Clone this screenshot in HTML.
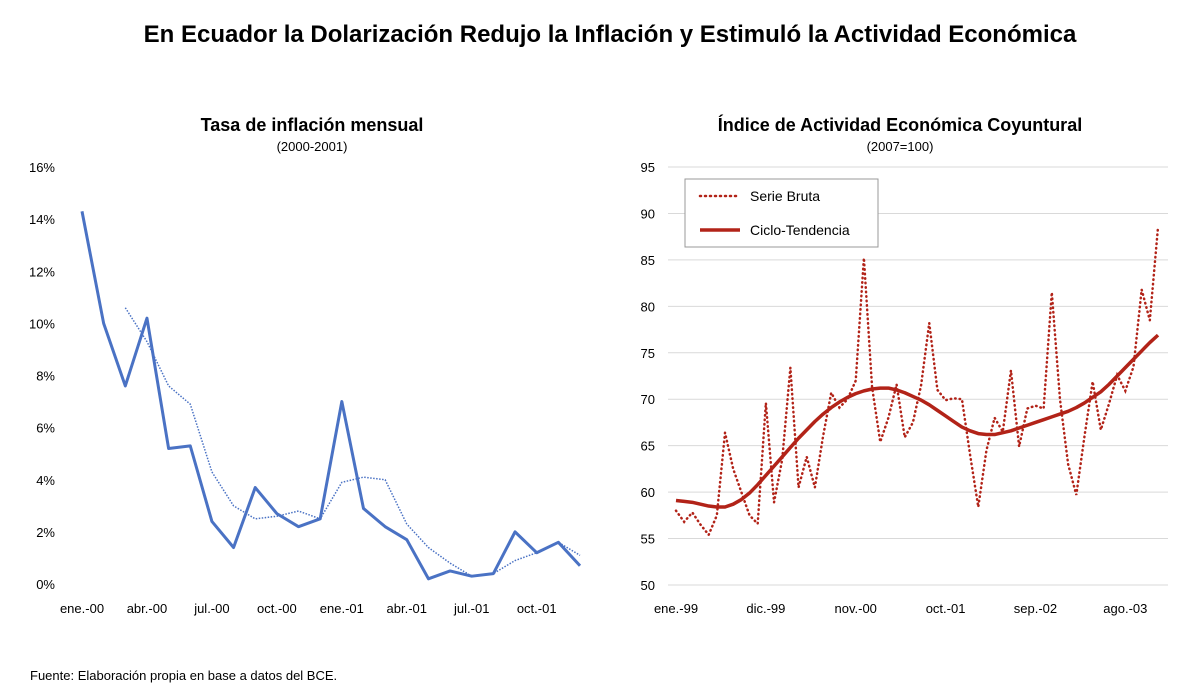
<!DOCTYPE html>
<html><head><meta charset="utf-8">
<style>
body{margin:0;background:#fff;font-family:"Liberation Sans",sans-serif;}
svg{display:block}
</style></head>
<body>
<svg id="c" width="1200" height="692" xmlns="http://www.w3.org/2000/svg">
<text x="610" y="42" text-anchor="middle" font-size="24" font-weight="bold" fill="#000">En Ecuador la Dolarización Redujo la Inflación y Estimuló la Actividad Económica</text>
<text x="312" y="131" text-anchor="middle" font-size="18" font-weight="bold">Tasa de inflación mensual</text>
<text x="312" y="151" text-anchor="middle" font-size="13">(2000-2001)</text>
<text x="900" y="131" text-anchor="middle" font-size="18" font-weight="bold">Índice de Actividad Económica Coyuntural</text>
<text x="900" y="151" text-anchor="middle" font-size="13">(2007=100)</text>
<text x="30" y="680" font-size="13">Fuente: Elaboración propia en base a datos del BCE.</text>
<g id="left"></g><g id="right"></g>
<g>
<rect x="685" y="179" width="193" height="68" fill="#fff" stroke="#999" stroke-width="1"/>
<line x1="700" y1="196" x2="740" y2="196" stroke="#b22318" stroke-width="2.5" stroke-dasharray="1 4" stroke-linecap="round"/>
<text x="750" y="201" font-size="14">Serie Bruta</text>
<line x1="700" y1="230" x2="740" y2="230" stroke="#b22318" stroke-width="3.5"/>
<text x="750" y="235" font-size="14">Ciclo-Tendencia</text>
</g>
</svg>
<script>
const leftMonths=["ene.-00","feb.-00","mar.-00","abr.-00","may.-00","jun.-00","jul.-00","ago.-00","sep.-00","oct.-00","nov.-00","dic.-00","ene.-01","feb.-01","mar.-01","abr.-01","may.-01","jun.-01","jul.-01","ago.-01","sep.-01","oct.-01","nov.-01","dic.-01"];
const inflacion=[14.3,10.0,7.6,10.2,5.2,5.3,2.4,1.4,3.7,2.7,2.2,2.5,7.0,2.9,2.2,1.7,0.2,0.5,0.3,0.4,2.0,1.2,1.6,0.7];
const inflacionPromedio=[null,null,10.6,9.3,7.6,6.9,4.3,3.0,2.5,2.6,2.8,2.5,3.9,4.1,4.0,2.3,1.4,0.8,0.3,0.4,0.9,1.2,1.6,1.1];
const leftTicks=[0,2,4,6,8,10,12,14,16];
const leftXLabels=["ene.-00","abr.-00","jul.-00","oct.-00","ene.-01","abr.-01","jul.-01","oct.-01"];
const serieBruta=[58.0,56.8,57.8,56.5,55.4,57.5,66.4,62.5,60.0,57.5,56.6,69.6,58.9,63.5,73.4,60.5,63.8,60.5,66.0,70.7,69.1,70.0,72.0,85.2,71.3,65.4,68.0,71.6,65.9,67.5,71.5,78.2,71.0,69.9,70.1,70.0,64.0,58.4,64.5,68.0,66.5,73.1,64.9,69.0,69.3,69.0,81.5,70.0,63.0,59.7,66.0,71.9,66.7,69.5,72.6,70.9,73.5,81.8,78.5,88.5];
const cicloTendencia=[59.1,59.0,58.9,58.7,58.5,58.4,58.4,58.7,59.2,59.9,60.8,61.8,62.8,63.8,64.8,65.8,66.7,67.6,68.4,69.1,69.7,70.2,70.6,70.9,71.1,71.2,71.2,71.0,70.7,70.3,69.9,69.4,68.8,68.2,67.6,67.0,66.6,66.3,66.2,66.2,66.4,66.6,66.9,67.2,67.5,67.8,68.1,68.4,68.7,69.1,69.6,70.2,70.8,71.6,72.5,73.4,74.3,75.2,76.1,76.9];
const rightTicks=[50,55,60,65,70,75,80,85,90,95];
const rightXLabels=["ene.-99","dic.-99","nov.-00","oct.-01","sep.-02","ago.-03"];
const rightXLabelIdx=[0,11,22,33,44,55];

const NS="http://www.w3.org/2000/svg";
function mk(tag,attrs,parent,text){const e=document.createElementNS(NS,tag);for(const k in attrs)e.setAttribute(k,attrs[k]);if(text!=null)e.textContent=text;parent.appendChild(e);return e;}

const L=document.getElementById('left');
const lx=i=>82+i*(580-82)/(leftMonths.length-1);
const ly=v=>584-v*(584-167)/16;
leftTicks.forEach(t=>{
  const e=mk('text',{x:55,y:ly(t)+5,'text-anchor':'end','font-size':13},L,t+'%');
  
  
});
leftXLabels.forEach(lab=>{
  const i=leftMonths.indexOf(lab);
  const e=mk('text',{x:lx(i),y:613,'text-anchor':'middle','font-size':13},L,lab);
  
  
});
let d=inflacion.map((v,i)=>(i?'L':'M')+lx(i)+' '+ly(v)).join(' ');
let p=mk('path',{d:d,fill:'none',stroke:'#4a72c4','stroke-width':3,'stroke-linejoin':'round'},L);


let d2='';inflacionPromedio.forEach((v,i)=>{if(v==null)return;d2+=(d2?'L':'M')+lx(i)+' '+ly(v)+' ';});
p=mk('path',{d:d2,fill:'none',stroke:'#4a72c4','stroke-width':1.5,'stroke-dasharray':'1.5 1.5'},L);



const R=document.getElementById('right');
const rx=i=>676+i*(1158-676)/(serieBruta.length-1);
const ry=v=>585-(v-50)*(585-167)/45;
rightTicks.forEach(t=>{
  const g=mk('line',{x1:668,x2:1168,y1:ry(t),y2:ry(t),stroke:'#d9d9d9','stroke-width':1},R);
  
  
  const e=mk('text',{x:655,y:ry(t)+5,'text-anchor':'end','font-size':13},R,t);
  
  
});
rightXLabels.forEach((lab,k)=>{
  const e=mk('text',{x:rx(rightXLabelIdx[k]),y:613,'text-anchor':'middle','font-size':13},R,lab);
  
  
});
d=serieBruta.map((v,i)=>(i?'L':'M')+rx(i)+' '+ry(v)).join(' ');
p=mk('path',{d:d,fill:'none',stroke:'#b22318','stroke-width':2.5,'stroke-dasharray':'0.5 4','stroke-linecap':'round'},R);


d=cicloTendencia.map((v,i)=>(i?'L':'M')+rx(i)+' '+ry(v)).join(' ');
p=mk('path',{d:d,fill:'none',stroke:'#b22318','stroke-width':3.5,'stroke-linejoin':'round'},R);


</script>
</body></html>
